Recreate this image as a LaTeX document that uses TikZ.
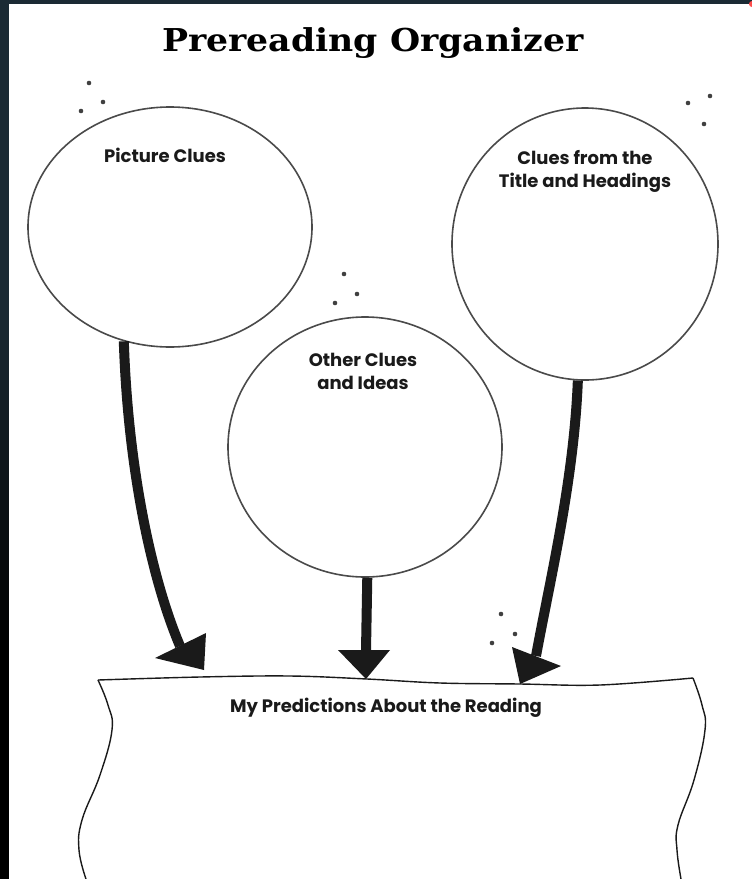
\documentclass[tikz,border=0pt]{standalone}
\usepackage{fontspec}
\newfontfamily\kidfont{Poppins}
\newfontfamily\titlefont{DejaVu Serif}
\usetikzlibrary{shapes.geometric}
\definecolor{bgdark}{HTML}{1B2A34}
\definecolor{ink}{HTML}{1A1A1A}
\definecolor{rim}{HTML}{4A4A4A}
\tikzset{
  lbl/.style={font=\kidfont\bfseries\fontsize{18}{23}\selectfont, text=ink, align=center, inner sep=0pt},
  bubble/.style={ellipse, draw=rim, line width=1.6pt, inner sep=0pt},
  shaft/.style={draw=ink, line width=10pt, line cap=butt},
  head/.style={fill=ink},
  dotmark/.style={fill=black!75},
  edge/.style={draw=ink, line width=1.4pt}
}
\begin{document}
\begin{tikzpicture}[x=1pt,y=-1pt]
\useasboundingbox (0,0) rectangle (752,879);
% background
\fill[bgdark] (0,0) rectangle (752,879);
\foreach \i in {0,...,19}{
  \pgfmathsetmacro{\mixv}{min(100,\i*6)}
  \fill[black!\mixv!bgdark] (0,{300+\i*20}) rectangle (9,{320+\i*20});
}
\fill[black] (0,700) rectangle (9,879);
\fill[white] (9,4) rectangle (752,879);
\fill[red!70] (752,4) circle (3);
% title
\node[inner sep=0pt, anchor=base] (title) at (373,51) {\titlefont\bfseries\fontsize{31.5}{36}\selectfont\scalebox{1.1}[1]{Prereading Organizer}};
% bubbles
\node[bubble, minimum width=284pt, minimum height=240pt] (lc) at (170,227) {};
\node[bubble, minimum width=266pt, minimum height=272pt] (rc) at (585,244) {};
\node[bubble, minimum width=274pt, minimum height=260pt] (mc) at (365,447) {};
% labels
\node[lbl] (lt) at (165,155) {Picture Clues};
\node[lbl] (rt) at (585,171) {Clues from the\\Title and Headings};
\node[lbl] (mt) at (363,371) {Other Clues\\and Ideas};
\node[lbl] (bt) at (386,708) {My Predictions About the Reading};
% dots
\foreach \p in {(89,83),(103,102),(81,111),(688,103),(710,96),(704,124),(344,274),(357,294),(335,303),(501,614),(515,634),(492,643)}
  \fill[dotmark] \p circle (2.3);
% arrow heads (named points)
\coordinate (la1) at (155,658); \coordinate (la2) at (206,633); \coordinate (lat) at (204,670);
\coordinate (lab) at (180,646);
\coordinate (ma1) at (338,650); \coordinate (ma2) at (390,650); \coordinate (mat) at (366,679);
\coordinate (mab) at (366,651);
\coordinate (ra1) at (512,647); \coordinate (ra2) at (561,666); \coordinate (rat) at (520,684);
\coordinate (rab) at (536,656);
% shafts
\draw[shaft] (lc.248) .. controls (128,470) and (152,580) .. (lab);
\draw[shaft] (mc.271) -- (mab);
\draw[shaft] (rc.267) .. controls (574,480) and (550,580) .. (rab);
\fill[head] (la1) -- (la2) -- (lat) -- cycle;
\fill[head] (ma1) -- (ma2) -- (mat) -- cycle;
\fill[head] (ra1) -- (ra2) -- (rat) -- cycle;
% predictions box
\draw[edge] plot[smooth, tension=0.6] coordinates {(98,680) (200,677) (290,676) (367,679) (440,683) (520,684) (600,685) (693,678)};
\draw[edge] plot[smooth, tension=0.7] coordinates {(98,680) (108,705) (112,730) (100,775) (82,820) (79,850) (86,879)};
\draw[edge] plot[smooth, tension=0.7] coordinates {(693,678) (702,705) (705,730) (694,780) (678,825) (677,850) (681,879)};
\end{tikzpicture}
\end{document}
